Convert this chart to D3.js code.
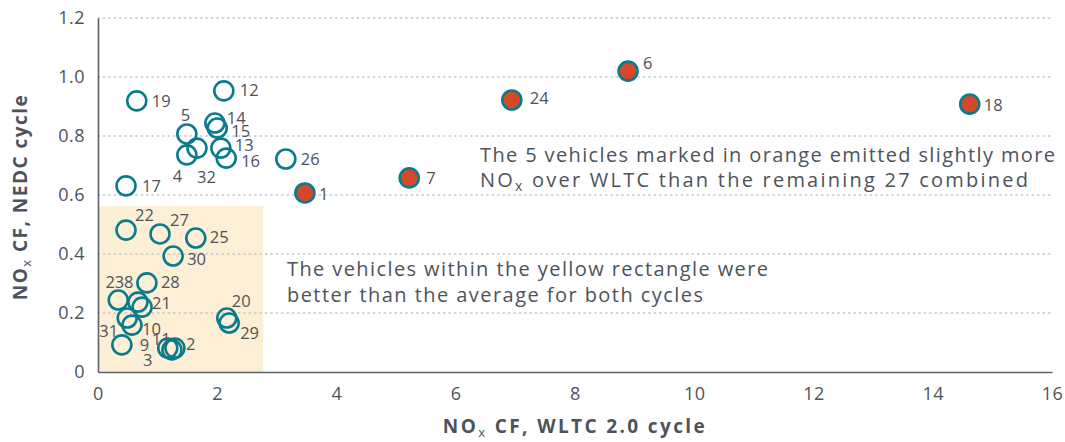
<!DOCTYPE html>
<html>
<head>
<meta charset="utf-8">
<script src="https://cdn.jsdelivr.net/npm/d3@7"></script>
<style>
  body { margin: 0; background: #fff; }
  svg text { font-family: "Open Sans", sans-serif; fill: #4d535b; }
</style>
</head>
<body>
<svg id="chart" width="1065" height="442"></svg>
<script>
// vehicle ids, WLTC 2.0 CF (x) and NEDC CF (y)
const vehicleIds = [1, 2, 3, 4, 5, 6, 7, 8, 9, 10, 11, 12, 13, 14, 15, 16,
  17, 18, 19, 20, 21, 22, 23, 24, 25, 26, 27, 28, 29, 30, 31, 32];
const wltcCF = [3.47, 1.29, 1.24, 1.49, 1.49, 8.89, 5.22, 0.67, 0.40, 0.57, 1.17, 2.11,
  2.06, 1.96, 2.00, 2.15, 0.47, 14.62, 0.65, 2.16, 0.74, 0.47, 0.34, 6.94,
  1.64, 3.15, 1.04, 0.82, 2.20, 1.26, 0.49, 1.66];
const nedcCF = [0.607, 0.081, 0.075, 0.736, 0.807, 1.02, 0.658, 0.237, 0.092, 0.159, 0.081, 0.953,
  0.759, 0.844, 0.827, 0.725, 0.631, 0.908, 0.919, 0.183, 0.22, 0.481, 0.244, 0.922,
  0.454, 0.722, 0.468, 0.302, 0.166, 0.393, 0.183, 0.759];
// the five high emitters, drawn in orange
const highEmitters = [1, 6, 7, 18, 24];
// averages over both cycles (edges of the yellow box)
const avgWltc = 2.77;
const avgNedc = 0.563;

const xTicks = [0, 2, 4, 6, 8, 10, 12, 14, 16];
const yTicks = [0, 0.2, 0.4, 0.6, 0.8, 1.0, 1.2];
const yTickLabels = ["0", "0.2", "0.4", "0.6", "0.8", "1.0", "1.2"];

// label placement around each marker: [dx, dy, anchor]
const labelPlace = {
  1: [14, 1, "start"], 2: [11, -5, "start"], 3: [-29, 10, "start"],
  4: [-14, 21, "start"], 5: [-6, -19, "start"], 6: [15, -9, "start"],
  7: [17, 0, "start"], 8: [-14, -21, "start"], 9: [18, 0, "start"],
  10: [10, 3, "start"], 11: [-16, -10, "start"], 12: [16, -1, "start"],
  13: [14, -4, "start"], 14: [12, -6, "start"], 15: [14, 2, "start"],
  16: [15, 2, "start"], 17: [16, 0, "start"], 18: [14, 0, "start"],
  19: [15, 0, "start"], 20: [5, -18, "start"], 21: [10, -5, "start"],
  22: [9, -16, "start"], 23: [6, -19, "end"], 24: [18, -3, "start"],
  25: [14, -2, "start"], 26: [15, -1, "start"], 27: [10, -14, "start"],
  28: [14, -1, "start"], 29: [11, 9, "start"], 30: [14, 2, "start"],
  31: [-9, 12, "end"], 32: [0, 28, "start"]
};

const data = vehicleIds.map((id, i) => ({
  id, x: wltcCF[i], y: nedcCF[i], high: highEmitters.includes(id)
}));

const svg = d3.select("#chart");
const MARGIN = { LEFT: 98, RIGHT: 13, TOP: 18, BOTTOM: 70 };
const WIDTH = 1065, HEIGHT = 442;

const x = d3.scaleLinear().domain([0, 16]).range([MARGIN.LEFT, WIDTH - MARGIN.RIGHT]);
const y = d3.scaleLinear().domain([0, 1.2]).range([HEIGHT - MARGIN.BOTTOM, MARGIN.TOP]);

const TEAL = "#0a7b8c";
const ORANGE = "#d5492b";
const TEXT = "#4d535b";

// stretch a text to the width it has in the original (wider typeface there)
function fitWidth(sel, target) {
  const node = sel.node();
  const len = node.getComputedTextLength();
  const n = node.textContent.length;
  if (n > 1) sel.style("letter-spacing", `${(target - len) / (n - 1)}px`);
}

// "NO" + subscript x + rest of the text
function subText(sel, rest, subSize) {
  sel.append("tspan").text("NO");
  sel.append("tspan").text("x").attr("dy", 4).style("font-size", subSize).style("font-weight", 400);
  sel.append("tspan").attr("dy", -4).text(rest);
}

// yellow "better than average" box
svg.append("rect")
  .attr("x", x(0))
  .attr("y", y(avgNedc))
  .attr("width", x(avgWltc) - x(0))
  .attr("height", y(0) - y(avgNedc))
  .attr("fill", "#fcefd5");

// dotted gridlines
svg.append("g")
  .selectAll("line")
  .data(yTicks.filter(d => d > 0))
  .join("line")
  .attr("x1", x(0))
  .attr("x2", x(16))
  .attr("y1", d => y(d))
  .attr("y2", d => y(d))
  .attr("stroke", "#c4c6c8")
  .attr("stroke-width", 1.4)
  .attr("stroke-dasharray", "1.4,4")
  .attr("stroke-linecap", "round");

// axes
const xAxis = svg.append("g")
  .attr("transform", `translate(0,${y(0)})`)
  .call(d3.axisBottom(x).tickValues(xTicks).tickSize(0).tickPadding(15).tickFormat(d3.format("d")));
xAxis.select(".domain").attr("stroke", "#5b6169").attr("stroke-width", 1.6);
xAxis.selectAll("text").style("font-size", "18px").style("fill", TEXT).style("letter-spacing", "0.5px");

const yAxis = svg.append("g")
  .attr("transform", `translate(${x(0)},0)`)
  .call(d3.axisLeft(y).tickValues(yTicks).tickSize(0).tickPadding(13)
    .tickFormat((d, i) => yTickLabels[i]));
yAxis.select(".domain").attr("stroke", "#5b6169").attr("stroke-width", 1.6);
yAxis.selectAll("text").style("font-size", "18px").style("fill", TEXT).style("letter-spacing", "0.5px");

// axis titles
const xTitle = svg.append("text")
  .attr("x", (x(0) + x(16)) / 2)
  .attr("y", 433)
  .attr("text-anchor", "middle")
  .style("font-size", "19px")
  .style("font-weight", 700);
subText(xTitle, " CF, WLTC 2.0 cycle", "13px");
fitWidth(xTitle, 262);

const yTitle = svg.append("text")
  .attr("transform", `translate(27,${(y(0) + y(1.2)) / 2 + 2}) rotate(-90)`)
  .attr("text-anchor", "middle")
  .style("font-size", "19px")
  .style("font-weight", 700);
subText(yTitle, " CF, NEDC cycle", "13px");
fitWidth(yTitle, 205);

// markers
svg.append("g")
  .selectAll("circle")
  .data(data)
  .join("circle")
  .attr("cx", d => x(d.x))
  .attr("cy", d => y(d.y))
  .attr("r", 9.5)
  .attr("fill", d => d.high ? ORANGE : "none")
  .attr("stroke", TEAL)
  .attr("stroke-width", 2.6);

// marker labels
svg.append("g")
  .selectAll("text")
  .data(data)
  .join("text")
  .attr("x", d => x(d.x) + labelPlace[d.id][0])
  .attr("y", d => y(d.y) + labelPlace[d.id][1])
  .attr("text-anchor", d => labelPlace[d.id][2])
  .attr("dominant-baseline", "central")
  .style("font-size", "16.5px")
  .text(d => d.id);

// annotations
const n1a = svg.append("text").attr("x", 480).attr("y", 162).style("font-size", "20px")
  .text("The 5 vehicles marked in orange emitted slightly more");
fitWidth(n1a, 575);
const n1b = svg.append("text").attr("x", 480).attr("y", 187).style("font-size", "20px");
subText(n1b, " over WLTC than the remaining 27 combined", "14px");
fitWidth(n1b, 548);

const n2a = svg.append("text").attr("x", 287).attr("y", 276).style("font-size", "20px")
  .text("The vehicles within the yellow rectangle were");
fitWidth(n2a, 481);
const n2b = svg.append("text").attr("x", 287).attr("y", 302).style("font-size", "20px")
  .text("better than the average for both cycles");
fitWidth(n2b, 416);
</script>
</body>
</html>
